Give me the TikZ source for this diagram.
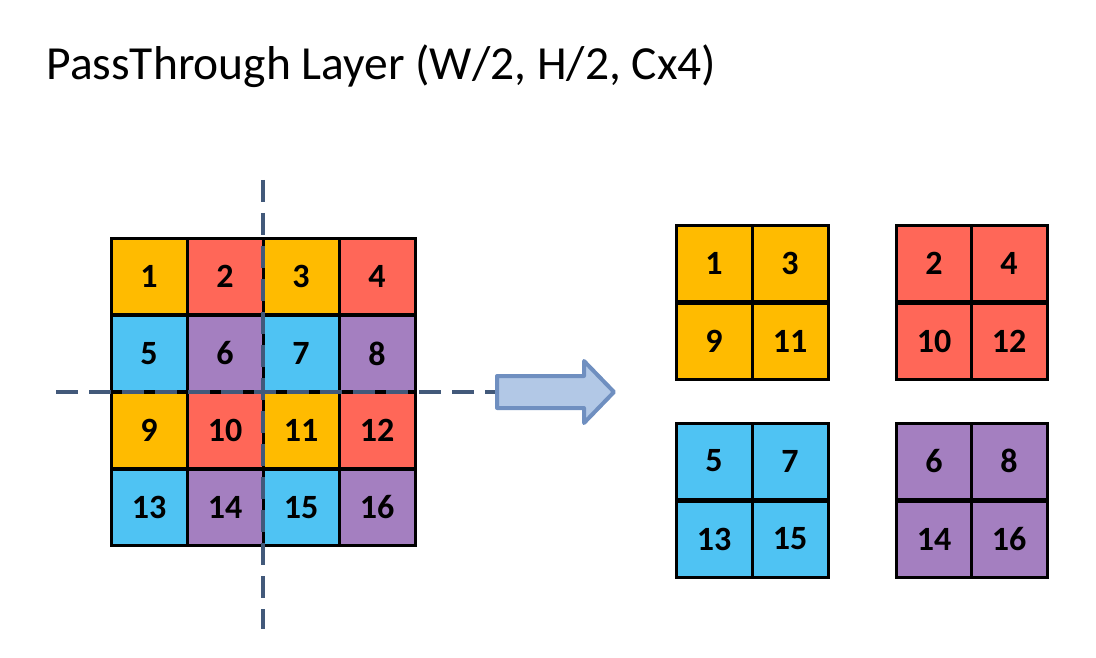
\documentclass[tikz,border=0pt]{standalone}
\usepackage{fontspec}
\setmainfont{Carlito}
\begin{document}
\begin{tikzpicture}[x=1pt,y=-1pt,
  cell/.style={draw=black,line width=3pt,minimum size=76pt,inner sep=0pt,outer sep=0pt,font=\fontsize{34}{34}\selectfont\bfseries},
  cutline/.style={draw=cutblue,line width=3.2pt,dash pattern=on 22pt off 11pt},
  bigarrow/.style={draw=arrowedge,fill=arrowfill,line width=4pt,line join=round}]
\definecolor{cOr}{HTML}{FFBB00}
\definecolor{cRd}{HTML}{FF6758}
\definecolor{cBl}{HTML}{4FC3F3}
\definecolor{cPu}{HTML}{A47FC0}
\definecolor{cutblue}{HTML}{42597A}
\definecolor{arrowedge}{HTML}{6F8FC0}
\definecolor{arrowfill}{HTML}{B2C8E6}
\useasboundingbox (0,0) rectangle (1096,658);
\node[anchor=base west,font=\fontsize{47.5}{47.5}\selectfont] (title) at (43,80) {PassThrough Layer (W/2, H/2, Cx4)};
% left 4x4 grid
\node[cell,fill=cOr] (l1) at (149,276.5) {1};
\node[cell,fill=cRd] (l2) at (225,276.5) {2};
\node[cell,fill=cOr] (l3) at (301,276.5) {3};
\node[cell,fill=cRd] (l4) at (377,276.5) {4};
\node[cell,fill=cBl] (l5) at (149,353.5) {5};
\node[cell,fill=cPu] (l6) at (225,353.5) {6};
\node[cell,fill=cBl] (l7) at (301,353.5) {7};
\node[cell,fill=cPu] (l8) at (377,353.5) {8};
\node[cell,fill=cOr] (l9) at (149,430.5) {9};
\node[cell,fill=cRd] (l10) at (225,430.5) {10};
\node[cell,fill=cOr] (l11) at (301,430.5) {11};
\node[cell,fill=cRd] (l12) at (377,430.5) {12};
\node[cell,fill=cBl] (l13) at (149,507.5) {13};
\node[cell,fill=cPu] (l14) at (225,507.5) {14};
\node[cell,fill=cBl] (l15) at (301,507.5) {15};
\node[cell,fill=cPu] (l16) at (377,507.5) {16};
% cut lines
\coordinate (vt) at (263,180);
\coordinate (vb) at (263,629);
\coordinate (hl) at (56,392);
\coordinate (hr) at (506,392);
\draw[cutline] (vt) -- (vb);
\draw[cutline] (hl) -- (hr);
% arrow
\draw[bigarrow] (497,376) -- (584,376) -- (584,361) -- (614,392) -- (584,423) -- (584,408) -- (497,408) -- cycle;
% right grids
\node[cell,fill=cOr] (a1) at (714,263.5) {1};
\node[cell,fill=cOr] (a3) at (790,263.5) {3};
\node[cell,fill=cOr] (a9) at (714,341) {9};
\node[cell,fill=cOr] (a11) at (790,341) {11};
\node[cell,fill=cRd] (b2) at (934,263.5) {2};
\node[cell,fill=cRd] (b4) at (1009,263.5) {4};
\node[cell,fill=cRd] (b10) at (934,341) {10};
\node[cell,fill=cRd] (b12) at (1009,341) {12};
\node[cell,fill=cBl] (c5) at (714,461) {5};
\node[cell,fill=cBl] (c7) at (790,461) {7};
\node[cell,fill=cBl] (c13) at (714,539) {13};
\node[cell,fill=cBl] (c15) at (790,539) {15};
\node[cell,fill=cPu] (d6) at (934,461) {6};
\node[cell,fill=cPu] (d8) at (1009,461) {8};
\node[cell,fill=cPu] (d14) at (934,539) {14};
\node[cell,fill=cPu] (d16) at (1009,539) {16};
\end{tikzpicture}
\end{document}
